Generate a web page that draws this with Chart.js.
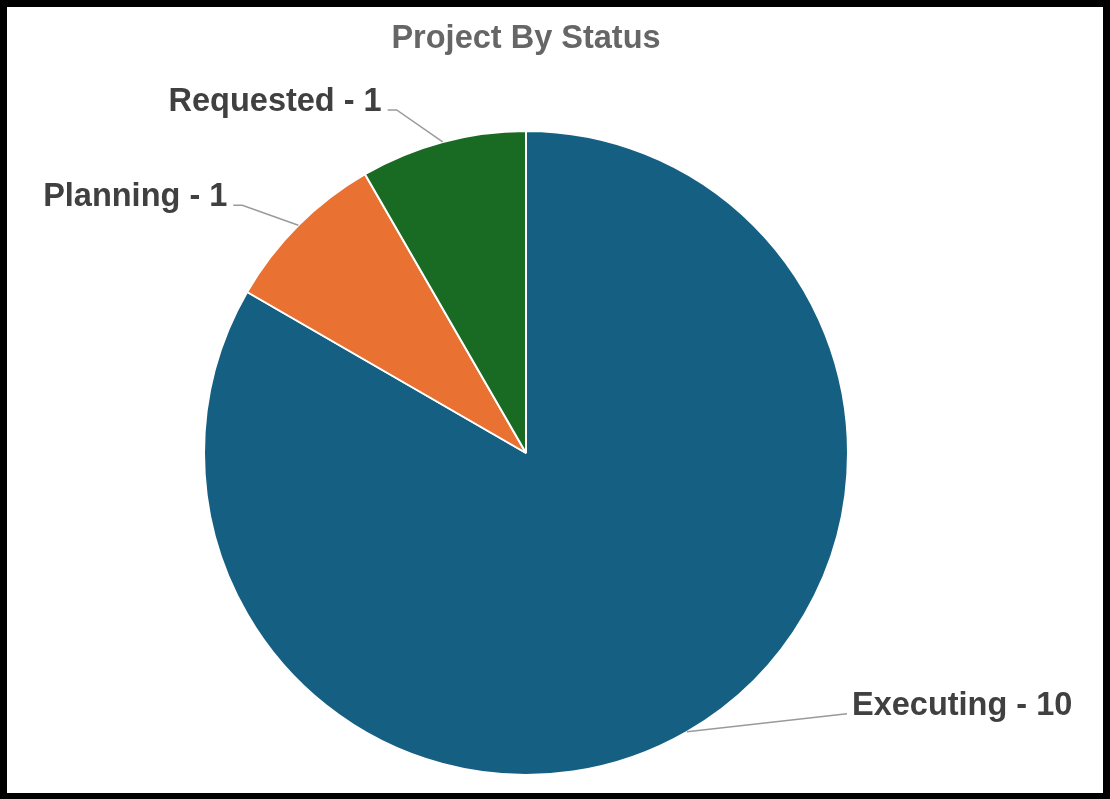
<!DOCTYPE html>
<html>
<head>
<meta charset="utf-8">
<script src="https://cdn.jsdelivr.net/npm/chart.js@4/dist/chart.umd.min.js"></script>
<style>
  html, body { margin: 0; padding: 0; background: #000; }
  body { width: 1110px; height: 799px; position: relative; overflow: hidden; }
  #frame { position: absolute; left: 7px; top: 7px; width: 1096px; height: 786px; background: #fff; }
  canvas { display: block; }
</style>
</head>
<body>
<div id="frame"><canvas id="c" width="1096" height="786"></canvas></div>
<script>
const chartTitle = 'Project By Status';
const categories = ['Executing', 'Planning', 'Requested'];
const projectCounts = [10, 1, 1];
const sliceColors = ['#156082', '#E97132', '#196B24'];

// leader elbow offsets relative to each slice's outer midpoint (styling)
const leaderOffsets = [[160, -18], [-56, -20], [-46, -32]];
const leaderTails = [0, 9, 9];

const sliceLabels = {
  id: 'sliceLabels',
  afterDatasetsDraw(chart) {
    const ctx = chart.ctx;
    const meta = chart.getDatasetMeta(0);
    ctx.save();
    ctx.font = 'bold 32.5px "Liberation Sans", Arial, sans-serif';
    ctx.textBaseline = 'alphabetic';
    meta.data.forEach((arc, i) => {
      const p = arc.getProps(['x', 'y', 'startAngle', 'endAngle', 'outerRadius'], true);
      const mid = (p.startAngle + p.endAngle) / 2;
      const sx = p.x + Math.cos(mid) * p.outerRadius;
      const sy = p.y + Math.sin(mid) * p.outerRadius;
      const ex = sx + leaderOffsets[i][0];
      const ey = sy + leaderOffsets[i][1];
      const right = leaderOffsets[i][0] > 0;
      const tx = right ? ex + leaderTails[i] : ex - leaderTails[i];
      ctx.strokeStyle = '#9a9a9a';
      ctx.lineWidth = 1.5;
      ctx.beginPath();
      ctx.moveTo(sx, sy);
      ctx.lineTo(ex, ey);
      ctx.lineTo(tx, ey);
      ctx.stroke();
      ctx.fillStyle = '#404040';
      ctx.textAlign = right ? 'left' : 'right';
      const text = categories[i] + ' - ' + projectCounts[i];
      ctx.fillText(text, right ? tx + 5 : tx - 6, ey + 1);
    });
    ctx.restore();
  }
};

new Chart(document.getElementById('c'), {
  type: 'pie',
  data: {
    labels: categories,
    datasets: [{
      data: projectCounts,
      backgroundColor: sliceColors,
      borderColor: '#ffffff',
      borderWidth: 2
    }]
  },
  options: {
    responsive: false,
    animation: false,
    layout: { padding: { top: 0, left: 0, right: 58, bottom: 17 } },
    plugins: {
      legend: { display: false },
      tooltip: { enabled: false },
      title: {
        display: true,
        text: chartTitle,
        color: '#666666',
        font: { family: '"Liberation Sans", Arial, sans-serif', size: 32.5, weight: 'bold' },
        padding: { top: 13, bottom: 71 }
      }
    }
  },
  plugins: [sliceLabels]
});
</script>
</body>
</html>
